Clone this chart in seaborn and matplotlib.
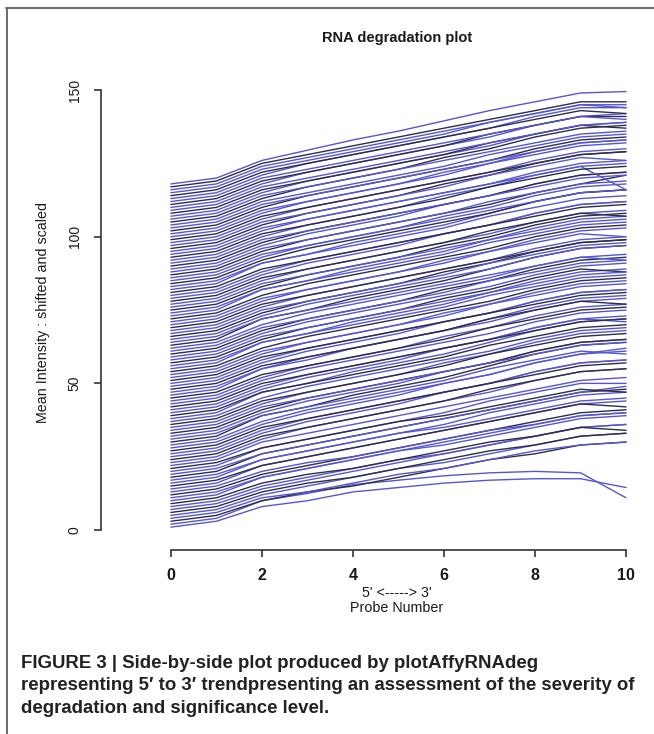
import matplotlib
matplotlib.use("Agg")
import matplotlib.pyplot as plt
import seaborn as sns
import pandas as pd
from matplotlib.lines import Line2D

# ---------------- data ----------------
probe_number = [0, 1, 2, 3, 4, 5, 6, 7, 8, 9, 10]

# mean intensity (shifted and scaled), one row per array, probes 0..10
intensity_rows = [
    [1, 3, 8, 10, 13, 14.5, 16, 17, 17.5, 17.5, 14.5],
    [2, 4, 10, 12.5, 15.5, 17, 18.5, 19.5, 20, 19.5, 11],
    [3, 5, 10, 13, 15, 18, 21, 24, 26, 29, 30],
    [4, 6, 11, 13, 16, 19, 21, 24, 27, 29, 30],
    [5, 7, 12, 15, 18, 21, 23, 26, 29, 32, 33],
    [6, 8, 13, 16, 18, 21, 24, 27, 29, 32, 33],
    [7, 9, 14, 17, 20, 23, 26, 29, 32, 35, 36],
    [8, 10, 15, 18, 21, 24, 26, 29, 32, 35, 36],
    [9, 11, 16, 19, 21, 24, 27, 30, 32, 35, 34],
    [10, 12, 18, 21, 24, 27, 30, 33, 36, 39, 40],
    [11, 13, 18, 21, 24, 27, 29, 32, 35, 38, 39],
    [12, 14, 19, 22, 25, 28, 31, 34, 37, 40, 41],
    [13, 15, 20, 23, 25, 28, 31, 34, 36, 39, 40],
    [14, 16, 22, 25, 28, 31, 34, 37, 40, 43, 44],
    [15, 17, 22, 25, 28, 31, 34, 37, 40, 43, 42],
    [16, 18, 24, 27, 30, 33, 36, 40, 43, 46, 47],
    [17, 19, 24, 27, 30, 33, 35, 38, 41, 44, 45],
    [18, 20, 26, 29, 32, 35, 38, 41, 44, 47, 48],
    [19, 21, 26, 29, 32, 35, 38, 41, 44, 47, 49],
    [20, 22, 28, 31, 34, 37, 40, 44, 47, 50, 50],
    [21, 23, 28, 31, 34, 37, 39, 42, 45, 48, 47],
    [22, 24, 30, 33, 36, 39, 42, 45, 48, 51, 52],
    [23, 25, 31, 35, 38, 41, 44, 47, 51, 54, 55],
    [24, 26, 32, 35, 38, 41, 44, 48, 51, 54, 55],
    [25, 27, 33, 37, 40, 43, 47, 50, 54, 57, 58],
    [26, 28, 34, 38, 41, 44, 47, 50, 54, 57, 58],
    [27, 29, 35, 38, 41, 44, 47, 50, 53, 56, 57],
    [28, 30, 36, 40, 43, 46, 50, 53, 57, 60, 61],
    [29, 31, 37, 41, 44, 47, 50, 53, 57, 60, 62],
    [30, 32, 39, 42, 46, 49, 52, 56, 60, 63, 64],
    [31, 33, 39, 42, 45, 48, 51, 55, 58, 61, 60],
    [32, 34, 40, 44, 47, 50, 54, 57, 61, 64, 65],
    [33, 35, 41, 45, 48, 51, 54, 57, 61, 64, 65],
    [34, 36, 42, 45, 48, 51, 54, 57, 60, 63, 64],
    [35, 37, 43, 47, 50, 53, 57, 60, 64, 67, 68],
    [36, 38, 44, 47, 50, 53, 56, 60, 63, 66, 67],
    [37, 39, 45, 49, 52, 55, 58, 61, 65, 68, 69],
    [38, 40, 47, 50, 54, 57, 60, 64, 68, 71, 72],
    [39, 41, 47, 50, 53, 56, 59, 63, 66, 69, 70],
    [40, 42, 48, 52, 55, 58, 62, 65, 69, 72, 71],
    [41, 43, 49, 53, 56, 59, 62, 65, 69, 72, 73],
    [42, 44, 50, 53, 56, 59, 62, 65, 68, 71, 72],
    [43, 45, 51, 55, 58, 61, 64, 67, 71, 74, 75],
    [44, 46, 52, 56, 59, 62, 66, 69, 73, 76, 77],
    [45, 47, 53, 56, 59, 62, 65, 69, 72, 75, 76],
    [46, 48, 55, 58, 62, 65, 68, 72, 76, 79, 80],
    [47, 49, 55, 59, 62, 65, 68, 71, 75, 78, 79],
    [48, 50, 56, 59, 62, 65, 68, 72, 75, 78, 77],
    [49, 51, 57, 61, 64, 67, 71, 74, 78, 81, 82],
    [50, 52, 58, 62, 65, 68, 71, 74, 78, 81, 82],
    [51, 53, 59, 62, 65, 68, 71, 74, 77, 80, 81],
    [52, 54, 60, 64, 67, 70, 74, 77, 81, 84, 85],
    [53, 55, 61, 64, 67, 70, 73, 77, 80, 83, 84],
    [54, 56, 62, 66, 69, 72, 75, 78, 82, 85, 86],
    [55, 57, 64, 67, 71, 74, 77, 81, 85, 88, 89],
    [56, 58, 64, 67, 70, 73, 76, 80, 83, 86, 87],
    [57, 59, 65, 69, 72, 75, 79, 82, 86, 89, 88],
    [58, 60, 66, 69, 72, 75, 78, 81, 84, 87, 88],
    [59, 61, 67, 71, 74, 77, 80, 83, 87, 90, 91],
    [60, 62, 68, 72, 75, 78, 82, 85, 89, 92, 93],
    [61, 63, 69, 72, 75, 78, 81, 85, 88, 91, 92],
    [62, 64, 70, 74, 77, 80, 83, 86, 90, 93, 94],
    [63, 65, 72, 75, 79, 82, 85, 89, 93, 96, 97],
    [64, 66, 72, 75, 78, 81, 84, 87, 90, 93, 92],
    [65, 67, 73, 77, 80, 83, 86, 89, 93, 96, 97],
    [66, 68, 74, 78, 81, 84, 88, 91, 95, 98, 99],
    [67, 69, 75, 78, 81, 84, 87, 91, 94, 97, 98],
    [68, 70, 76, 80, 83, 86, 89, 92, 96, 99, 100],
    [69, 71, 77, 80, 83, 86, 89, 92, 95, 98, 99],
    [70, 72, 78, 82, 85, 88, 92, 95, 99, 102, 103],
    [71, 73, 79, 82, 85, 88, 91, 95, 98, 101, 100],
    [72, 74, 80, 84, 87, 90, 93, 96, 100, 103, 104],
    [73, 75, 82, 85, 89, 92, 95, 99, 103, 106, 107],
    [74, 76, 82, 85, 88, 91, 94, 98, 101, 104, 105],
    [75, 77, 83, 87, 90, 93, 97, 100, 104, 107, 108],
    [76, 78, 84, 87, 90, 93, 96, 99, 102, 105, 106],
    [77, 79, 85, 89, 92, 95, 98, 101, 105, 108, 109],
    [78, 80, 86, 89, 92, 95, 98, 102, 105, 108, 107],
    [79, 81, 87, 91, 94, 97, 101, 104, 108, 111, 112],
    [80, 82, 88, 92, 95, 98, 101, 104, 108, 111, 112],
    [81, 83, 89, 92, 95, 98, 101, 104, 107, 110, 111],
    [82, 84, 91, 94, 98, 101, 104, 108, 112, 115, 116],
    [83, 85, 91, 94, 97, 100, 103, 107, 110, 113, 114],
    [84, 86, 92, 96, 99, 102, 105, 108, 112, 115, 116],
    [85, 87, 93, 97, 100, 103, 107, 110, 114, 117, 118],
    [86, 88, 94, 97, 100, 103, 106, 109, 112, 115, 116],
    [87, 89, 95, 99, 102, 105, 108, 111, 115, 118, 121],
    [88, 90, 96, 99, 102, 105, 108, 112, 115, 118, 119],
    [89, 91, 97, 101, 104, 107, 111, 114, 118, 121, 122],
    [90, 92, 98, 102, 105, 108, 111, 114, 118, 121, 122],
    [91, 93, 99, 102, 105, 108, 111, 114, 117, 120, 121],
    [92, 94, 100, 104, 107, 110, 114, 117, 121, 124, 116],
    [93, 95, 101, 104, 107, 110, 113, 117, 120, 123, 124],
    [94, 96, 102, 106, 109, 112, 115, 118, 122, 125, 126],
    [95, 97, 103, 106, 109, 112, 115, 118, 121, 124, 125],
    [96, 98, 104, 108, 111, 114, 118, 121, 125, 128, 129],
    [97, 99, 105, 108, 111, 114, 117, 121, 124, 127, 126],
    [98, 100, 106, 110, 113, 116, 119, 122, 126, 129, 130],
    [99, 101, 107, 110, 113, 116, 119, 122, 125, 128, 129],
    [100, 102, 108, 112, 115, 118, 122, 125, 129, 132, 133],
    [101, 103, 109, 112, 115, 118, 121, 125, 128, 131, 132],
    [102, 104, 110, 114, 117, 120, 123, 126, 130, 133, 134],
    [103, 105, 111, 114, 117, 120, 123, 126, 129, 132, 133],
    [104, 106, 112, 115, 118, 121, 124, 128, 131, 134, 135],
    [105, 107, 113, 117, 120, 123, 127, 130, 134, 137, 138],
    [106, 108, 114, 117, 120, 123, 126, 129, 132, 135, 136],
    [107, 109, 115, 119, 122, 125, 128, 131, 135, 138, 139],
    [108, 110, 116, 119, 122, 125, 128, 132, 135, 138, 137],
    [109, 111, 117, 120, 123, 126, 129, 132, 135, 138, 139],
    [110, 112, 118, 122, 125, 128, 131, 134, 138, 141, 142],
    [111, 113, 119, 122, 125, 128, 131, 135, 138, 141, 141],
    [112, 114, 120, 123, 126, 129, 132, 135, 138, 141, 140],
    [113, 115, 121, 125, 128, 131, 134, 137, 141, 144, 144],
    [114, 116, 122, 125, 128, 131, 134, 137, 140, 143, 142],
    [115, 117, 123, 126, 129, 132, 135, 139, 142, 145, 145],
    [116, 118, 124, 127, 130, 133, 136, 139, 142, 145, 144],
    [117, 119, 125, 128, 131, 134, 137, 140, 143, 146, 146],
    [118, 120, 126, 129.5, 133, 136, 139.5, 143, 146, 149, 149.5],
]

x_ticks = [0, 2, 4, 6, 8, 10]
y_ticks = [0, 50, 100, 150]
title_text = "RNA degradation plot"
ylabel_text = "Mean Intensity : shifted and scaled"
xlabel_line1 = "5' <-----> 3'"
xlabel_line2 = "Probe Number"
caption_lines = [
    "FIGURE 3 | Side-by-side plot produced by plotAffyRNAdeg",
    "representing 5\u2032 to 3\u2032 trendpresenting an assessment of the severity of",
    "degradation and significance level.",
]

# ---------------- build long-form table ----------------
records = []
for arr_idx, row in enumerate(intensity_rows, start=1):
    for p, v in zip(probe_number, row):
        records.append({"array": arr_idx, "probe": p, "intensity": v})
df = pd.DataFrame(records)

n_arrays = len(intensity_rows)
BLUE = "#5656d2"
DARK = "#2e2e46"
palette = [DARK if i % 3 == 0 else BLUE for i in range(1, n_arrays + 1)]

# ---------------- figure ----------------
sns.set_theme(style="white")
plt.rcParams["font.family"] = ["Liberation Sans", "DejaVu Sans"]

W, H = 654, 734
fig = plt.figure(figsize=(W / 100, H / 100), dpi=100)
fig.patch.set_facecolor("white")

ax_left, ax_right, ax_top, ax_bottom = 101, 654, 71, 550
ax = fig.add_axes([ax_left / W, (H - ax_bottom) / H,
                   (ax_right - ax_left) / W, (ax_bottom - ax_top) / H])
ax.set_facecolor("white")

sns.lineplot(data=df, x="probe", y="intensity", hue="array",
             palette=palette, estimator=None, sort=False,
             legend=False, linewidth=1.0, ax=ax)

ax.set_xlim(-1.535, 10.614)
ax.set_ylim(-6.8, 156.5)
ax.set_xticks(x_ticks)
ax.set_yticks(y_ticks)
ax.set_xticklabels([str(t) for t in x_ticks])
ax.set_yticklabels([str(t) for t in y_ticks], rotation=90, va="center")
ax.set_xlabel("")
ax.set_ylabel("")

for side in ["top", "right"]:
    ax.spines[side].set_visible(False)
for side in ["left", "bottom"]:
    ax.spines[side].set_visible(True)
    ax.spines[side].set_color("#333333")
    ax.spines[side].set_linewidth(1.2)
ax.spines["left"].set_bounds(0, 150)
ax.spines["bottom"].set_bounds(0, 10)
ax.tick_params(axis="both", direction="out", length=5, width=1.2,
               color="#333333", labelcolor="#1a1a1a")
ax.tick_params(axis="y", pad=9, left=True, labelsize=10)
ax.tick_params(axis="x", pad=8, bottom=True, labelsize=11.5)
for lbl in ax.get_xticklabels():
    lbl.set_fontweight("bold")
ax.grid(False)

# titles and labels (centred on the R plot region)
cx = 397 / W
fig.text(cx, 1 - 38 / H, title_text, ha="center", va="center",
         fontsize=10.5, fontweight="bold", color="#1a1a1a")
fig.text(cx, 1 - 593 / H, xlabel_line1, ha="center", va="center",
         fontsize=10.3, color="#1a1a1a")
fig.text(cx, 1 - 608 / H, xlabel_line2, ha="center", va="center",
         fontsize=10.3, color="#1a1a1a")
fig.text(43 / W, 1 - 312 / H, ylabel_text, ha="center", va="center",
         rotation=90, fontsize=10.3, color="#1a1a1a")

# caption
for k, line in enumerate(caption_lines):
    fig.text(21 / W, 1 - (668 + 22.5 * k) / H, line, ha="left",
             va="baseline", fontsize=13.4, fontweight="bold",
             color="#222222")

# outer frame lines
fig.add_artist(Line2D([6 / W, 1.0], [1 - 8 / H, 1 - 8 / H],
                      transform=fig.transFigure, color="#6a6a6a", lw=1.4))
fig.add_artist(Line2D([7 / W, 7 / W], [1 - 8 / H, 0.0],
                      transform=fig.transFigure, color="#6a6a6a", lw=1.4))

fig.savefig("out.png", dpi=100, facecolor="white")
